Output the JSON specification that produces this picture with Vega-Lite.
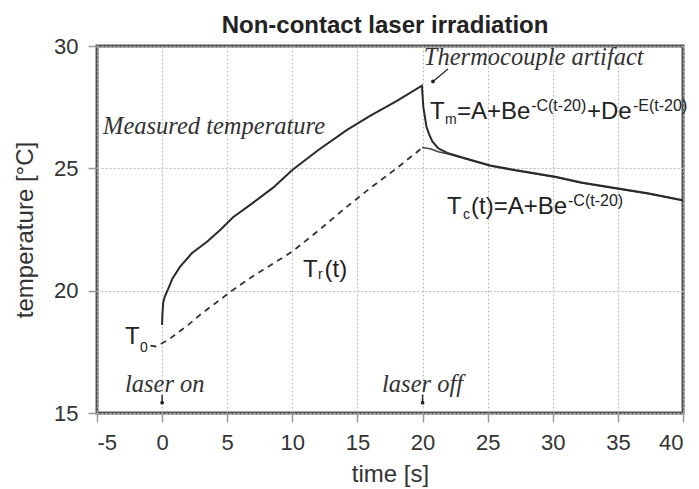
{
  "$schema": "https://vega.github.io/schema/vega-lite/v6.json",
  "width": 586,
  "height": 367,
  "autosize": {"type": "none"},
  "padding": {"left": 97, "top": 46, "right": 16, "bottom": 76},
  "background": "white",
  "title": {
    "text": "Non-contact laser irradiation",
    "font": "Liberation Sans",
    "fontSize": 24,
    "fontWeight": "bold",
    "color": "#222",
    "frame": "group",
    "anchor": "middle",
    "offset": -3,
    "dx": -5
  },
  "config": {
    "view": {"stroke": "#555", "strokeWidth": 3},
    "axis": {
      "domain": false,
      "grid": true,
      "gridColor": "#bbb",
      "gridDash": [2, 2],
      "gridWidth": 1,
      "ticks": true,
      "tickColor": "#999",
      "tickSize": 9,
      "tickWidth": 1.5,
      "labelFont": "Liberation Sans",
      "labelFontSize": 22,
      "labelColor": "#333",
      "labelPadding": 10,
      "labelExpr": "'' + datum.value",
      "titleFont": "Liberation Sans",
      "titleFontSize": 24,
      "titleFontWeight": "normal",
      "titleColor": "#333"
    }
  },
  "datasets": {
    "measured": [
      {"t": 0.0, "T": 18.6}, {"t": 0.02, "T": 19.0}, {"t": 0.08, "T": 19.5},
      {"t": 0.2, "T": 19.75}, {"t": 0.45, "T": 20.05}, {"t": 0.8, "T": 20.5},
      {"t": 1.37, "T": 20.97}, {"t": 2.3, "T": 21.54}, {"t": 3.45, "T": 22.0},
      {"t": 4.5, "T": 22.5}, {"t": 5.45, "T": 23.0}, {"t": 7.0, "T": 23.6},
      {"t": 8.5, "T": 24.2}, {"t": 10.0, "T": 24.93}, {"t": 12.0, "T": 25.75},
      {"t": 14.2, "T": 26.57}, {"t": 16.0, "T": 27.15}, {"t": 18.0, "T": 27.75},
      {"t": 19.95, "T": 28.38}, {"t": 20.06, "T": 27.5}, {"t": 20.3, "T": 26.7},
      {"t": 20.5, "T": 26.4}, {"t": 20.75, "T": 26.1}, {"t": 21.2, "T": 25.82},
      {"t": 21.9, "T": 25.63}, {"t": 23.0, "T": 25.45}, {"t": 24.0, "T": 25.3},
      {"t": 25.2, "T": 25.12}, {"t": 27.1, "T": 24.93}, {"t": 30.2, "T": 24.66},
      {"t": 32.2, "T": 24.42}, {"t": 34.8, "T": 24.2}, {"t": 37.3, "T": 23.98},
      {"t": 40.0, "T": 23.7}
    ],
    "fitTc": [
      {"t": 19.95, "T": 25.85}, {"t": 20.6, "T": 25.8}, {"t": 21.2, "T": 25.68},
      {"t": 21.9, "T": 25.6}, {"t": 23.0, "T": 25.43}, {"t": 24.0, "T": 25.28},
      {"t": 25.2, "T": 25.1}, {"t": 27.1, "T": 24.91}, {"t": 30.2, "T": 24.64},
      {"t": 32.2, "T": 24.4}, {"t": 34.8, "T": 24.18}, {"t": 37.3, "T": 23.96},
      {"t": 40.0, "T": 23.68}
    ],
    "ramp": [
      {"t": -0.9, "T": 17.75}, {"t": -0.5, "T": 17.72}, {"t": 0.0, "T": 17.85},
      {"t": 0.5, "T": 18.0}, {"t": 1.0, "T": 18.2}, {"t": 2.0, "T": 18.6},
      {"t": 3.0, "T": 19.05}, {"t": 4.0, "T": 19.45}, {"t": 5.44, "T": 20.03},
      {"t": 7.0, "T": 20.6}, {"t": 10.0, "T": 21.6}, {"t": 12.0, "T": 22.45},
      {"t": 14.0, "T": 23.35}, {"t": 16.0, "T": 24.2}, {"t": 18.0, "T": 25.0},
      {"t": 19.95, "T": 25.83}
    ],
    "labels": [
      {"t": -4.54, "T": 26.69, "text": "Measured temperature", "group": "note"},
      {"t": 20.1, "T": 29.51, "text": "Thermocouple artifact", "group": "note"},
      {"t": -2.85, "T": 16.14, "text": "laser on", "group": "note"},
      {"t": 16.89, "T": 16.14, "text": "laser off", "group": "note"},
      {"t": 20.57, "T": 27.3, "text": "T", "group": "formula"},
      {"t": 21.73, "T": 26.98, "text": "m", "group": "sub"},
      {"t": 22.65, "T": 27.3, "text": "=A+Be", "group": "formula"},
      {"t": 28.34, "T": 27.55, "text": "-C(t-20)", "group": "sup"},
      {"t": 32.63, "T": 27.3, "text": "+De", "group": "formula"},
      {"t": 36.16, "T": 27.55, "text": "-E(t-20)", "group": "sup"},
      {"t": 21.88, "T": 23.42, "text": "T", "group": "formula"},
      {"t": 23.11, "T": 23.09, "text": "c", "group": "sub"},
      {"t": 23.72, "T": 23.42, "text": "(t)=A+Be", "group": "formula"},
      {"t": 31.17, "T": 23.66, "text": "-C(t-20)", "group": "sup"},
      {"t": 10.82, "T": 20.84, "text": "T", "group": "formula"},
      {"t": 11.97, "T": 20.64, "text": "r", "group": "sub"},
      {"t": 12.47, "T": 20.84, "text": "(t)", "group": "formula"},
      {"t": -2.85, "T": 18.11, "text": "T", "group": "formula"},
      {"t": -1.7, "T": 17.66, "text": "0", "group": "sub"}
    ],
    "pointers": [
      {"t": 21.95, "T": 29.06, "t2": 20.8, "T2": 28.55, "tip": "artifact"},
      {"t": 0.0, "T": 15.75, "t2": 0.0, "T2": 15.42, "tip": "on"},
      {"t": 20.0, "T": 15.75, "t2": 20.0, "T2": 15.42, "tip": "off"}
    ]
  },
  "encoding": {
    "x": {
      "field": "t",
      "type": "quantitative",
      "scale": {"domain": [-5, 40], "nice": false, "zero": false},
      "axis": {"values": [-5, 0, 5, 10, 15, 20, 25, 30, 35, 40], "title": "time [s]", "titlePadding": 9}
    },
    "y": {
      "field": "T",
      "type": "quantitative",
      "scale": {"domain": [15, 30], "nice": false, "zero": false},
      "axis": {"values": [15, 20, 25, 30], "title": "temperature [°C]", "titlePadding": 16}
    }
  },
  "layer": [
    {
      "data": {"name": "ramp"},
      "mark": {"type": "line", "color": "#333", "strokeWidth": 1.8, "strokeDash": [6, 5]}
    },
    {
      "data": {"name": "fitTc"},
      "mark": {"type": "line", "color": "#444", "strokeWidth": 1.6}
    },
    {
      "data": {"name": "measured"},
      "mark": {"type": "line", "color": "#2a2a2a", "strokeWidth": 2}
    },
    {
      "data": {"name": "pointers"},
      "mark": {"type": "rule", "color": "#333", "strokeWidth": 1.5},
      "encoding": {
        "x2": {"field": "t2"},
        "y2": {"field": "T2"}
      }
    },
    {
      "data": {"name": "pointers"},
      "mark": {"type": "point", "filled": true, "color": "#222", "size": 14, "opacity": 1},
      "encoding": {
        "x": {"field": "t2", "type": "quantitative"},
        "y": {"field": "T2", "type": "quantitative"}
      }
    },
    {
      "data": {"name": "labels"},
      "transform": [{"filter": "datum.group === 'note'"}],
      "mark": {"type": "text", "align": "left", "baseline": "middle", "font": "Liberation Serif", "fontStyle": "italic", "fontSize": 24.5, "color": "#333"},
      "encoding": {"text": {"field": "text"}}
    },
    {
      "data": {"name": "labels"},
      "transform": [{"filter": "datum.group === 'formula'"}],
      "mark": {"type": "text", "align": "left", "baseline": "middle", "font": "Liberation Sans", "fontSize": 24, "color": "#222"},
      "encoding": {"text": {"field": "text"}}
    },
    {
      "data": {"name": "labels"},
      "transform": [{"filter": "datum.group === 'sub'"}],
      "mark": {"type": "text", "align": "left", "baseline": "middle", "font": "Liberation Sans", "fontSize": 14, "color": "#222"},
      "encoding": {"text": {"field": "text"}}
    },
    {
      "data": {"name": "labels"},
      "transform": [{"filter": "datum.group === 'sup'"}],
      "mark": {"type": "text", "align": "left", "baseline": "middle", "font": "Liberation Sans", "fontSize": 16, "color": "#222"},
      "encoding": {"text": {"field": "text"}}
    }
  ]
}
